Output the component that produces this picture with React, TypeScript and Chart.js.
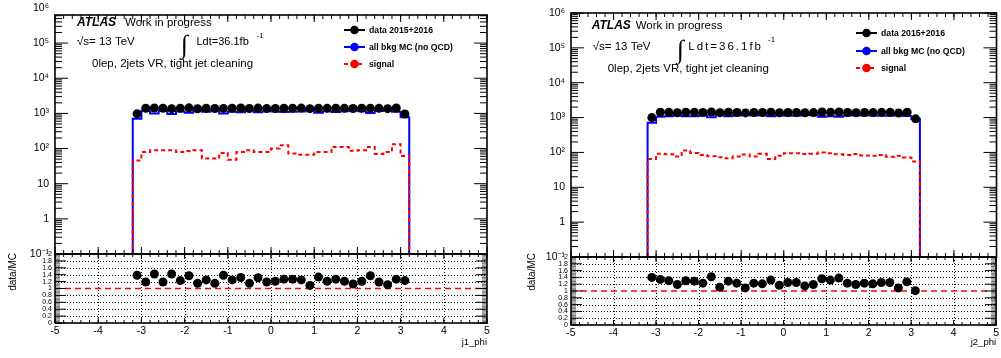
import React, { useEffect, useRef } from "react";
import { Chart, registerables } from "chart.js";

Chart.register(...registerables);

const W = 1001;
const H = 358;
const SANS = "'Liberation Sans', Arial, Helvetica, sans-serif";

// ---------------- data ----------------
const phiEdges = [
  -3.2, -3.0, -2.8, -2.6, -2.4, -2.2, -2.0, -1.8, -1.6, -1.4, -1.2, -1.0, -0.8, -0.6, -0.4, -0.2, 0.0,
  0.2, 0.4, 0.6, 0.8, 1.0, 1.2, 1.4, 1.6, 1.8, 2.0, 2.2, 2.4, 2.6, 2.8, 3.0, 3.2,
];
const phiCenters = [
  -3.1, -2.9, -2.7, -2.5, -2.3, -2.1, -1.9, -1.7, -1.5, -1.3, -1.1, -0.9, -0.7, -0.5, -0.3, -0.1,
  0.1, 0.3, 0.5, 0.7, 0.9, 1.1, 1.3, 1.5, 1.7, 1.9, 2.1, 2.3, 2.5, 2.7, 2.9, 3.1,
];

const j1Data = [
  970, 1404, 1420, 1404, 1363, 1402, 1439, 1357, 1400, 1380, 1385, 1400, 1426, 1380, 1415, 1369,
  1379, 1397, 1410, 1413, 1363, 1397, 1392, 1397, 1392, 1379, 1404, 1411, 1392, 1365, 1422, 959,
];
const j1Bkg = [
  700, 1180, 1000, 1180, 960, 1140, 1050, 1180, 1120, 1200, 1000, 1120, 1080, 1200, 1080, 1150,
  1140, 1100, 1110, 1130, 1250, 1050, 1150, 1100, 1150, 1220, 1160, 1030, 1170, 1230, 1120, 780,
];
const j1Signal = [
  46, 80, 90, 90, 90, 80, 85, 90, 52, 52, 75, 48, 80, 90, 80, 80,
  100, 124, 72, 67, 67, 80, 80, 111, 111, 86, 90, 111, 70, 80, 133, 61,
];
const j1Ratio = [
  1.385, 1.19, 1.42, 1.19, 1.42, 1.23, 1.37, 1.15, 1.25, 1.15, 1.385, 1.25, 1.32, 1.15, 1.31, 1.19,
  1.21, 1.27, 1.27, 1.25, 1.09, 1.33, 1.21, 1.27, 1.21, 1.13, 1.21, 1.37, 1.19, 1.11, 1.27, 1.23,
];

const j2Data = [
  1000, 1420, 1410, 1370, 1420, 1410, 1400, 1440, 1380, 1420, 1400, 1360, 1400, 1400, 1430, 1370,
  1400, 1400, 1370, 1390, 1440, 1430, 1450, 1400, 1380, 1400, 1390, 1410, 1410, 1350, 1420, 920,
];
const j2Bkg = [
  714, 1060, 1085, 1150, 1092, 1093, 1138, 1014, 1243, 1100, 1138, 1248, 1138, 1157, 1083, 1171,
  1120, 1120, 1191, 1168, 1059, 1083, 1051, 1138, 1160, 1138, 1149, 1128, 1128, 1239, 1118, 911,
];
const j2Signal = [
  65, 91, 88, 76, 113, 97, 85, 78, 73, 68, 76, 87, 76, 91, 65, 80,
  95, 95, 90, 92, 100, 95, 88, 85, 90, 82, 80, 85, 75, 80, 72, 55,
];
const j2Ratio = [
  1.4, 1.34, 1.3, 1.19, 1.3, 1.29, 1.23, 1.42, 1.11, 1.29, 1.23, 1.09, 1.23, 1.21, 1.32, 1.17,
  1.25, 1.25, 1.15, 1.19, 1.36, 1.32, 1.38, 1.23, 1.19, 1.23, 1.21, 1.25, 1.25, 1.09, 1.27, 1.01,
];

const xTickValues = [-5, -4, -3, -2, -1, 0, 1, 2, 3, 4, 5];
const mainTickValues = [0.1, 1, 10, 100, 1000, 10000, 100000, 1000000];
const mainTickLabels = ["10\u207B\u00B9", "1", "10", "10\u00B2", "10\u00B3", "10\u2074", "10\u2075", "10\u2076"];
const ratioTickValues = [0, 0.2, 0.4, 0.6, 0.8, 1, 1.2, 1.4, 1.6, 1.8, 2];
const ratioTickLabels = ["0", "0.2", "0.4", "0.6", "0.8", "1", "1.2", "1.4", "1.6", "1.8", "2"];
const legendLabels = ["data 2015+2016", "all bkg MC (no QCD)", "signal"];
const xTitles = ["j1_phi", "j2_phi"];
const yRatioTitle = "data/MC";
const floorValue = 0.1;

// ---------------- layout (positions / styles) ----------------
type Box = { l: number; r: number; t: number; b: number };
type TextItem = { x: number; y: number; s: string; f: string; ls?: number };
type Panel = {
  data: number[];
  bkg: number[];
  signal: number[];
  ratio: number[];
  xTitle: string;
  main: Box;
  ratioBox: Box;
  mainMax: number;
  yTitleX: number;
  yTitleTop: number;
  xTitleY: number;
  texts: TextItem[];
  legend: { x1: number; x2: number; tx: number; rows: number[] };
};

const panels: Panel[] = [
  {
    data: j1Data,
    bkg: j1Bkg,
    signal: j1Signal,
    ratio: j1Ratio,
    xTitle: xTitles[0],
    main: { l: 55, r: 487, t: 15, b: 254 },
    ratioBox: { l: 55, r: 487, t: 254, b: 323 },
    mainMax: 6.3e5,
    yTitleX: 13,
    yTitleTop: 253,
    xTitleY: 345,
    texts: [
      { x: 77, y: 25.5, s: "ATLAS", f: `italic bold 12px ${SANS}` },
      { x: 125, y: 25.5, s: "Work in progress", f: `11.5px ${SANS}` },
      { x: 77, y: 45, s: "\u221As= 13 TeV", f: `11.5px ${SANS}` },
      { x: 181, y: 53, s: "\u222B", f: `26px 'Liberation Serif', serif` },
      { x: 196.5, y: 45, s: "Ldt=36.1fb", f: `11px ${SANS}` },
      { x: 256.5, y: 37.5, s: "-1", f: `8px ${SANS}` },
      { x: 92, y: 66.5, s: "0lep, 2jets VR, tight jet cleaning", f: `11.5px ${SANS}` },
    ],
    legend: { x1: 344, x2: 365, tx: 369, rows: [30, 47, 64] },
  },
  {
    data: j2Data,
    bkg: j2Bkg,
    signal: j2Signal,
    ratio: j2Ratio,
    xTitle: xTitles[1],
    main: { l: 571, r: 997, t: 13, b: 257 },
    ratioBox: { l: 571, r: 997, t: 257, b: 325 },
    mainMax: 1e6,
    yTitleX: 532,
    yTitleTop: 253,
    xTitleY: 345,
    texts: [
      { x: 591.7, y: 28.5, s: "ATLAS", f: `italic bold 12px ${SANS}` },
      { x: 635.7, y: 28.5, s: "Work in progress", f: `11.5px ${SANS}` },
      { x: 592.7, y: 50, s: "\u221As= 13 TeV", f: `11.5px ${SANS}` },
      { x: 677, y: 58, s: "\u222B", f: `26px 'Liberation Serif', serif` },
      { x: 688.3, y: 50, s: "Ldt=36.1fb", f: `11.5px ${SANS}`, ls: 2 },
      { x: 768, y: 42, s: "-1", f: `8px ${SANS}` },
      { x: 607.7, y: 72, s: "0lep, 2jets VR, tight jet cleaning", f: `11.5px ${SANS}` },
    ],
    legend: { x1: 856, x2: 877, tx: 881, rows: [33, 51, 68] },
  },
];

const Y_AXIS_W = 55;
const X_AXIS_H = 20;

function stepSeries(values: number[]) {
  const pts: { x: number; y: number }[] = [{ x: -5, y: floorValue }];
  values.forEach((v, i) => pts.push({ x: phiEdges[i], y: v }));
  pts.push({ x: phiEdges[phiEdges.length - 1], y: floorValue });
  pts.push({ x: 5, y: floorValue });
  return pts;
}

// decoration tick positions
const xMinorTicks: number[] = [];
for (let i = 0; i <= 50; i++) xMinorTicks.push(-5 + i * 0.2);
const logMinorTicks: number[] = [];
for (let e = -1; e <= 5; e++) for (let m = 2; m <= 9; m++) logMinorTicks.push(m * Math.pow(10, e));
const ratioMinorTicks: number[] = [];
for (let i = 0; i <= 50; i++) ratioMinorTicks.push(i * 0.04);

function hline(ctx: CanvasRenderingContext2D, x1: number, x2: number, y: number) {
  ctx.beginPath();
  ctx.moveTo(x1, y);
  ctx.lineTo(x2, y);
  ctx.stroke();
}
function vline(ctx: CanvasRenderingContext2D, x: number, y1: number, y2: number) {
  ctx.beginPath();
  ctx.moveTo(x, y1);
  ctx.lineTo(x, y2);
  ctx.stroke();
}

const rootPlugin = {
  id: "rootFrame",
  beforeDatasetsDraw(chart: any, _args: any, opts: any) {
    if (opts.kind !== "ratio") return;
    const { ctx, chartArea: a } = chart;
    const xs = chart.scales.x;
    const ys = chart.scales.y;
    ctx.save();
    ctx.beginPath();
    ctx.rect(a.left, a.top, a.right - a.left, a.bottom - a.top);
    ctx.clip();
    ctx.strokeStyle = "#000";
    ctx.lineWidth = 1;
    ctx.setLineDash([1, 2]);
    ratioTickValues.forEach((v) => {
      if (v <= 0 || v >= 2 || v === 1) return;
      hline(ctx, a.left, a.right, Math.round(ys.getPixelForValue(v)) + 0.5);
    });
    xTickValues.forEach((v) => {
      if (v <= -5 || v >= 5) return;
      vline(ctx, Math.round(xs.getPixelForValue(v)) + 0.5, a.top, a.bottom);
    });
    ctx.strokeStyle = "#ff0000";
    ctx.lineWidth = 1.5;
    ctx.setLineDash([6, 4]);
    hline(ctx, a.left, a.right, ys.getPixelForValue(1));
    ctx.restore();
  },
  afterDatasetsDraw(chart: any, _args: any, opts: any) {
    const { ctx, chartArea: a } = chart;
    const xs = chart.scales.x;
    const ys = chart.scales.y;
    const isMain = opts.kind === "main";
    ctx.save();
    ctx.strokeStyle = "#000";
    ctx.lineWidth = 1;
    ctx.setLineDash([]);
    const inY = (y: number) => y >= a.top - 0.5 && y <= a.bottom + 0.5;
    // y ticks
    const yMaj = isMain ? mainTickValues : ratioTickValues;
    const yMin = isMain ? logMinorTicks : ratioMinorTicks;
    const yMajLen = isMain ? 13 : 11;
    const yMinLen = isMain ? 7 : 5;
    ctx.strokeStyle = isMain ? "#000" : "#777";
    yMin.forEach((v) => {
      const y = ys.getPixelForValue(v);
      if (!inY(y)) return;
      hline(ctx, a.left, a.left + yMinLen, y);
      hline(ctx, a.right - yMinLen, a.right, y);
    });
    ctx.strokeStyle = "#000";
    yMaj.forEach((v) => {
      const y = ys.getPixelForValue(v);
      if (!inY(y)) return;
      hline(ctx, a.left, a.left + yMajLen, y);
      hline(ctx, a.right - yMajLen, a.right, y);
    });
    // x ticks
    const xMajLen = isMain ? 7 : 5;
    const xMinLen = isMain ? 4 : 3;
    xMinorTicks.forEach((v) => {
      const x = xs.getPixelForValue(v);
      vline(ctx, x, a.bottom, a.bottom - xMinLen);
      vline(ctx, x, a.top, a.top + xMinLen);
    });
    xTickValues.forEach((v) => {
      const x = xs.getPixelForValue(v);
      vline(ctx, x, a.bottom, a.bottom - xMajLen);
      vline(ctx, x, a.top, a.top + xMajLen);
    });
    // frame
    ctx.lineWidth = 1.6;
    ctx.strokeRect(a.left, a.top, a.right - a.left, a.bottom - a.top);
    ctx.restore();
  },
  afterDraw(chart: any, _args: any, opts: any) {
    const p = panels[opts.panel];
    const { ctx, chartArea: a } = chart;
    ctx.save();
    ctx.fillStyle = "#000";
    if (opts.kind === "main") {
      ctx.textAlign = "left";
      ctx.textBaseline = "alphabetic";
      p.texts.forEach((t) => {
        ctx.font = t.f;
        (ctx as any).letterSpacing = t.ls ? `${t.ls}px` : "0px";
        ctx.fillText(t.s, t.x, t.y);
      });
      (ctx as any).letterSpacing = "0px";
      // legend
      const styles = [
        { c: "#000000", dash: [] as number[] },
        { c: "#0000ff", dash: [] as number[] },
        { c: "#ff0000", dash: [4, 3] },
      ];
      legendLabels.forEach((lab, i) => {
        const y = p.legend.rows[i];
        const st = styles[i];
        ctx.strokeStyle = st.c;
        ctx.lineWidth = 2;
        ctx.setLineDash(st.dash);
        hline(ctx, p.legend.x1, p.legend.x2, y);
        ctx.setLineDash([]);
        ctx.fillStyle = st.c;
        ctx.beginPath();
        ctx.arc((p.legend.x1 + p.legend.x2) / 2, y, 4.3, 0, Math.PI * 2);
        ctx.fill();
        ctx.fillStyle = "#000";
        ctx.font = `bold 8.7px ${SANS}`;
        ctx.textBaseline = "middle";
        ctx.fillText(lab, p.legend.tx, y + 0.5);
      });
    } else {
      // axis titles
      ctx.font = `9.5px ${SANS}`;
      ctx.textAlign = "right";
      ctx.textBaseline = "alphabetic";
      ctx.fillText(p.xTitle, a.right, p.xTitleY);
      ctx.save();
      ctx.translate(p.yTitleX, p.yTitleTop);
      ctx.rotate(-Math.PI / 2);
      ctx.font = `10px ${SANS}`;
      ctx.textAlign = "right";
      ctx.textBaseline = "middle";
      ctx.fillText(yRatioTitle, 0, 0);
      ctx.restore();
    }
    ctx.restore();
  },
};

function makeMain(canvas: HTMLCanvasElement, idx: number) {
  const p = panels[idx];
  return new Chart(canvas, {
    type: "line",
    data: {
      datasets: [
        {
          label: legendLabels[0],
          data: phiCenters.map((x, i) => ({ x, y: p.data[i] })),
          showLine: false,
          pointRadius: 4.5,
          pointBackgroundColor: "#000",
          pointBorderColor: "#000",
          pointBorderWidth: 0,
          order: 0,
        },
        {
          label: legendLabels[2],
          data: stepSeries(p.signal),
          stepped: "before",
          borderColor: "#ff0000",
          borderWidth: 2,
          borderDash: [4, 3],
          pointRadius: 0,
          fill: false,
          order: 1,
        },
        {
          label: legendLabels[1],
          data: stepSeries(p.bkg),
          stepped: "before",
          borderColor: "#0000ff",
          borderWidth: 2,
          pointRadius: 0,
          fill: false,
          order: 2,
        },
      ],
    } as any,
    options: {
      animation: false,
      responsive: false,
      devicePixelRatio: 1,
      events: [],
      layout: {
        padding: { left: p.main.l - Y_AXIS_W, right: W - p.main.r, top: p.main.t, bottom: H - p.main.b },
      },
      plugins: {
        legend: { display: false },
        tooltip: { enabled: false },
        rootFrame: { kind: "main", panel: idx },
      } as any,
      scales: {
        x: { type: "linear", min: -5, max: 5, display: false },
        y: {
          type: "logarithmic",
          min: floorValue,
          max: p.mainMax,
          afterFit: (s: any) => {
            s.width = Y_AXIS_W;
          },
          afterBuildTicks: (s: any) => {
            s.ticks = mainTickValues.map((v) => ({ value: v }));
          },
          ticks: {
            autoSkip: false,
            padding: 6,
            color: "#000",
            font: { family: SANS, size: 10.5 },
            callback: (_v: any, i: number) => mainTickLabels[i],
          },
          grid: { display: false, drawTicks: false },
          border: { display: false },
        },
      } as any,
    },
    plugins: [rootPlugin as any],
  });
}

function makeRatio(canvas: HTMLCanvasElement, idx: number) {
  const p = panels[idx];
  return new Chart(canvas, {
    type: "line",
    data: {
      datasets: [
        {
          label: "ratio",
          data: phiCenters.map((x, i) => ({ x, y: p.ratio[i] })),
          showLine: false,
          pointRadius: 4.5,
          pointBackgroundColor: "#000",
          pointBorderColor: "#000",
          pointBorderWidth: 0,
        },
      ],
    } as any,
    options: {
      animation: false,
      responsive: false,
      devicePixelRatio: 1,
      events: [],
      layout: {
        padding: {
          left: p.ratioBox.l - Y_AXIS_W,
          right: W - p.ratioBox.r,
          top: p.ratioBox.t,
          bottom: H - p.ratioBox.b - X_AXIS_H,
        },
      },
      plugins: {
        legend: { display: false },
        tooltip: { enabled: false },
        rootFrame: { kind: "ratio", panel: idx },
      } as any,
      scales: {
        x: {
          type: "linear",
          min: -5,
          max: 5,
          afterFit: (s: any) => {
            s.height = X_AXIS_H;
          },
          afterBuildTicks: (s: any) => {
            s.ticks = xTickValues.map((v) => ({ value: v }));
          },
          ticks: {
            autoSkip: false,
            maxRotation: 0,
            padding: 2,
            color: "#000",
            font: { family: SANS, size: 10.5 },
            callback: (v: any) => String(v),
          },
          grid: { display: false, drawTicks: false },
          border: { display: false },
        },
        y: {
          type: "linear",
          min: 0,
          max: 2,
          afterFit: (s: any) => {
            s.width = Y_AXIS_W;
          },
          afterBuildTicks: (s: any) => {
            s.ticks = ratioTickValues.map((v) => ({ value: v }));
          },
          ticks: {
            autoSkip: false,
            padding: 3,
            color: "#000",
            font: { family: SANS, size: 7 },
            callback: (_v: any, i: number) => ratioTickLabels[i],
          },
          grid: { display: false, drawTicks: false },
          border: { display: false },
        },
      } as any,
    },
    plugins: [rootPlugin as any],
  });
}

export default function App() {
  const m0 = useRef<HTMLCanvasElement>(null);
  const r0 = useRef<HTMLCanvasElement>(null);
  const m1 = useRef<HTMLCanvasElement>(null);
  const r1 = useRef<HTMLCanvasElement>(null);

  useEffect(() => {
    const charts = [
      makeMain(m0.current!, 0),
      makeRatio(r0.current!, 0),
      makeMain(m1.current!, 1),
      makeRatio(r1.current!, 1),
    ];
    return () => charts.forEach((c) => c.destroy());
  }, []);

  const cs: React.CSSProperties = { position: "absolute", left: 0, top: 0, width: W, height: H };
  return (
    <div style={{ position: "fixed", left: 0, top: 0, width: W, height: H, background: "#fff" }}>
      <canvas ref={m0} width={W} height={H} style={cs} />
      <canvas ref={r0} width={W} height={H} style={cs} />
      <canvas ref={m1} width={W} height={H} style={cs} />
      <canvas ref={r1} width={W} height={H} style={cs} />
    </div>
  );
}
